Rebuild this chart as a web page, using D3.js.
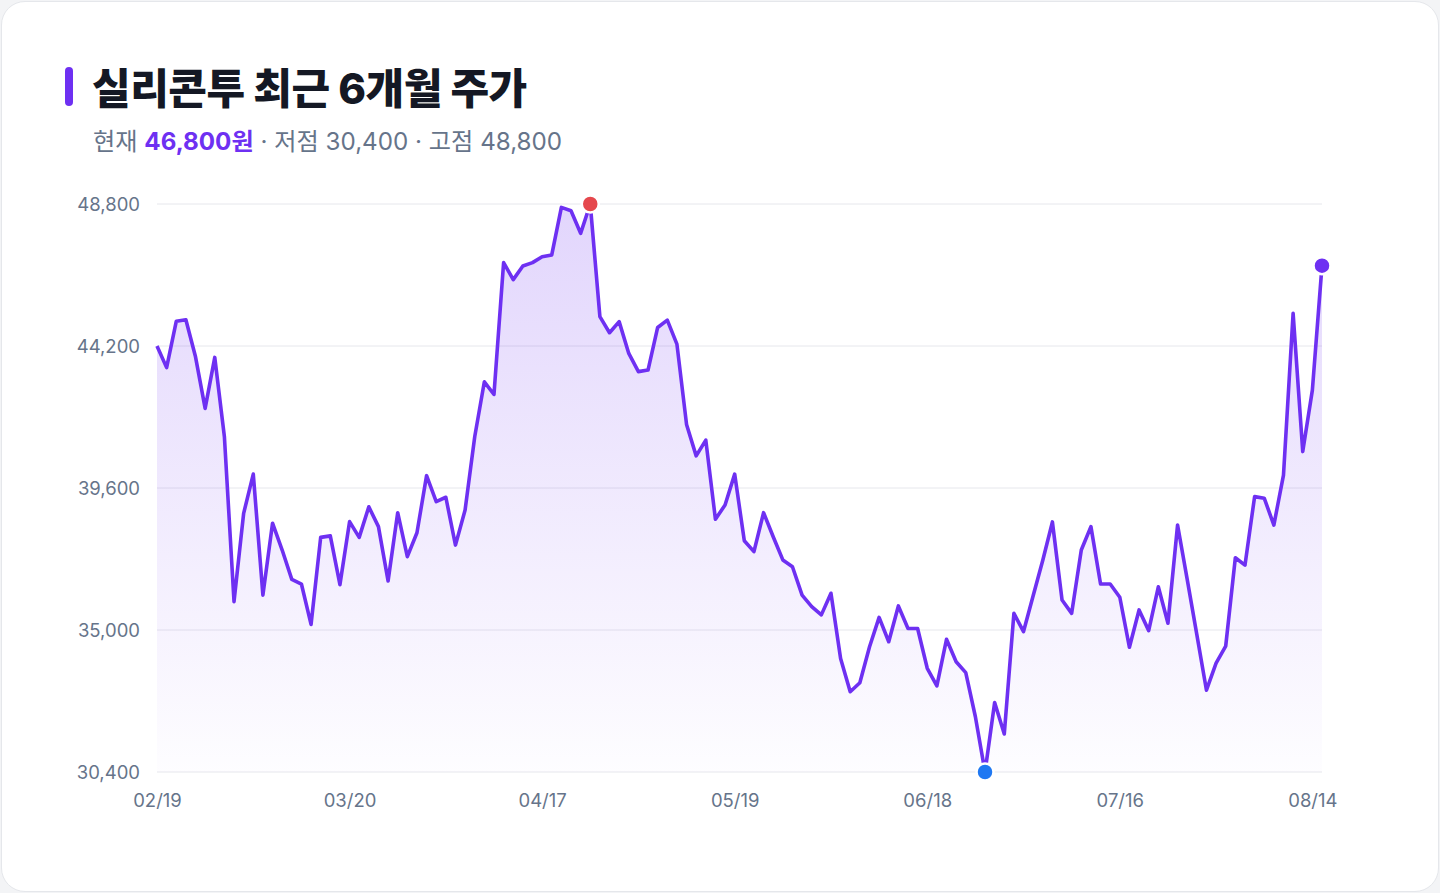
<!DOCTYPE html>
<html>
<head>
<meta charset="utf-8">
<script src="https://cdn.jsdelivr.net/npm/d3@7"></script>
<style>
  html, body { margin: 0; padding: 0; background: #f3f4f6; }
  body { width: 1440px; height: 893px; overflow: hidden; font-family: Inter, "Noto Sans CJK KR", sans-serif; }
  #card {
    position: absolute; left: 1px; top: 1px; width: 1436px; height: 889px;
    background: #fff; border: 1px solid #e5e7eb; border-radius: 24px;
  }
</style>
</head>
<body>
<div id="card"><div id="container"></div></div>
<script>
// closing prices, one per trading day (02/19 -> 08/14)
var closes = [
  44200, 43500, 45000, 45050, 43850, 42180, 43830, 41260, 35920, 38780,
  40050, 36130, 38460, 37590, 36640, 36490, 35180, 38000, 38050, 36470,
  38510, 38000, 38990, 38350, 36590, 38800, 37375, 38150, 40000, 39160,
  39300, 37750, 38890, 41260, 43040, 42630, 46900, 46350, 46790, 46900,
  47090, 47150, 48690, 48580, 47850, 48800, 45150, 44630, 44990, 43960,
  43370, 43420, 44800, 45040, 44260, 41660, 40640, 41150, 38590, 39050,
  40050, 37890, 37540, 38800, 38020, 37270, 37050, 36130, 35760, 35490,
  36190, 34080, 33000, 33290, 34450, 35410, 34620, 35780, 35050, 35050,
  33760, 33190, 34700, 33970, 33620, 32190, 30400, 32650, 31630, 35540,
  34950, 36110, 37260, 38500, 35970, 35540, 37590, 38350, 36490, 36490,
  36060, 34440, 35650, 34980, 36400, 35220, 38400, 36640, 34850, 33050,
  33930, 34480, 37340, 37100, 39320, 39270, 38400, 40020, 45260, 40780,
  42770, 46800
];

// x tick positions (trading day index) and their labels
var tickIndex = [0, 20, 40, 60, 80, 100, 120];
var tickLabels = ['02/19', '03/20', '04/17', '05/19', '06/18', '07/16', '08/14'];

// y ticks
var yTicks = [30400, 35000, 39600, 44200, 48800];

var current = 46800;
var low = 30400;
var high = 48800;

/*-------------------------------------------------------------------------------------*/
var width = 1440;
var height = 893;
var margin = { left: 157, right: 118, top: 204, bottom: 121 };
var purple = '#6e30f2';

var svg = d3.select('#container')
  .append('svg')
  .attr('width', width)
  .attr('height', height)
  .style('position', 'absolute')
  .style('left', '-2px')
  .style('top', '-2px');

var fmt = d3.format(',');

// title
svg.append('rect')
  .attr('x', 65).attr('y', 67)
  .attr('width', 8).attr('height', 39)
  .attr('rx', 4)
  .attr('fill', purple);

svg.append('text')
  .attr('x', 92).attr('y', 104)
  .attr('font-size', 42)
  .attr('font-weight', 800)
  .attr('letter-spacing', -0.5)
  .attr('fill', '#141824')
  .text('실리콘투 최근 6개월 주가');

var sub = svg.append('text')
  .attr('x', 93).attr('y', 150)
  .attr('font-size', 24.2)
  .attr('fill', '#66748a');
sub.append('tspan').text('현재 ');
sub.append('tspan').attr('font-weight', 700).attr('fill', purple).text(fmt(current) + '원');
sub.append('tspan').text(' · 저점 ' + fmt(low) + ' · 고점 ' + fmt(high));

/*-------------------------------------------------------------------------------------*/
var x = d3.scaleLinear()
  .domain([0, closes.length - 1])
  .range([margin.left, width - margin.right]);

var y = d3.scaleLinear()
  .domain([low, high])
  .range([height - margin.bottom, margin.top]);

// gridlines
svg.append('g')
  .selectAll('line')
  .data(yTicks)
  .join('line')
  .attr('x1', x(0))
  .attr('x2', x(closes.length - 1))
  .attr('y1', d => y(d))
  .attr('y2', d => y(d))
  .attr('stroke', '#e6e7ec')
  .attr('stroke-width', 1);

// y axis labels
var yAxis = svg.append('g')
  .attr('transform', `translate(${margin.left - 17},1)`)
  .call(d3.axisLeft(y).tickValues(yTicks).tickFormat(fmt).tickSize(0).tickPadding(0));
yAxis.select('.domain').remove();
yAxis.selectAll('text')
  .attr('font-family', 'Inter, "Noto Sans CJK KR", sans-serif')
  .attr('font-size', 18.5)
  .attr('fill', '#66748a');

// x axis labels
var xAxis = svg.append('g')
  .attr('transform', `translate(0,${height - margin.bottom + 22})`)
  .call(d3.axisBottom(x).tickValues(tickIndex).tickFormat((d, i) => tickLabels[i]).tickSize(0).tickPadding(0));
xAxis.select('.domain').remove();
xAxis.selectAll('text')
  .attr('font-family', 'Inter, "Noto Sans CJK KR", sans-serif')
  .attr('font-size', 18.5)
  .attr('fill', '#66748a');

/*-------------------------------------------------------------------------------------*/
// area + line
var grad = svg.append('defs')
  .append('linearGradient')
  .attr('id', 'fillGrad')
  .attr('x1', 0).attr('x2', 0).attr('y1', 0).attr('y2', 1);
grad.append('stop').attr('offset', '0%').attr('stop-color', purple).attr('stop-opacity', 0.2);
grad.append('stop').attr('offset', '100%').attr('stop-color', purple).attr('stop-opacity', 0.01);

var area = d3.area()
  .x((d, i) => x(i))
  .y0(y(low))
  .y1(d => y(d));

svg.append('path')
  .datum(closes)
  .attr('d', area)
  .attr('fill', 'url(#fillGrad)');

var line = d3.line()
  .x((d, i) => x(i))
  .y(d => y(d));

svg.append('path')
  .datum(closes)
  .attr('d', line)
  .attr('fill', 'none')
  .attr('stroke', purple)
  .attr('stroke-width', 3.6)
  .attr('stroke-linejoin', 'round');

// markers: high, low, current
var hiIdx = closes.indexOf(high);
var loIdx = closes.indexOf(low);
var marks = [
  { i: hiIdx, v: high, c: '#e5484d' },
  { i: loIdx, v: low, c: '#1f78f2' },
  { i: closes.length - 1, v: current, c: purple }
];

svg.append('g')
  .selectAll('circle')
  .data(marks)
  .join('circle')
  .attr('cx', d => x(d.i))
  .attr('cy', d => y(d.v))
  .attr('r', 8.5)
  .attr('fill', d => d.c)
  .attr('stroke', '#fff')
  .attr('stroke-width', 2.5);
</script>
</body>
</html>
